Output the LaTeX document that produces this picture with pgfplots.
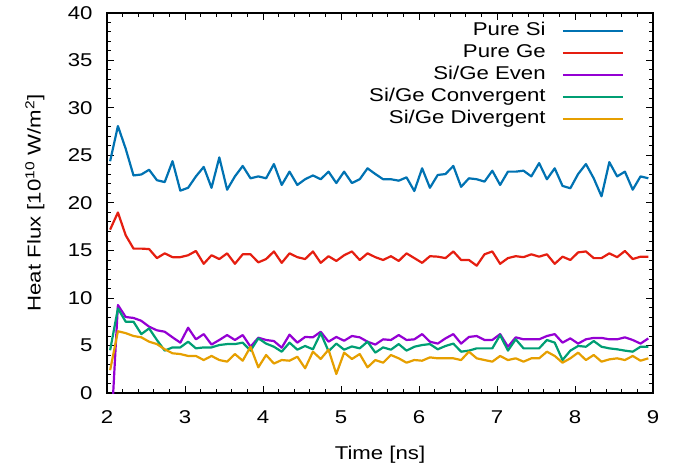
\documentclass[border=0pt]{standalone}
\usepackage{fontspec}
\setmainfont[FakeStretch=1.2]{Liberation Sans}
\usepackage{pgfplots}
\usepackage{pgfplotstable}
\pgfplotsset{compat=1.18}
\definecolor{cSi}{HTML}{0072B2}
\definecolor{cGe}{HTML}{E51E10}
\definecolor{cEv}{HTML}{9400D3}
\definecolor{cCo}{HTML}{009E73}
\definecolor{cDi}{HTML}{E69F00}
\newcommand\fsz{\fontsize{18.5bp}{21bp}\selectfont}
\pgfplotstableread{
x si ge even conv div
2.04 24.4 17.2 -6 4.5 2.4
2.14 28.1 19.0 9.26 8.9 6.5
2.24 25.7 16.6 8.0 7.5 6.3
2.34 22.9 15.2 7.9 7.5 6.0
2.44 23.0 15.2 7.6 6.2 5.86
2.54 23.5 15.15 6.98 6.8 5.4
2.64 22.4 14.2 6.6 5.58 5.15
2.74 22.2 14.7 6.45 4.46 4.6
2.84 24.4 14.3 5.86 4.8 4.18
2.94 21.3 14.3 5.3 4.8 4.1
3.04 21.6 14.5 6.87 5.4 3.9
3.14 22.8 14.95 5.65 4.7 3.9
3.24 23.8 13.6 6.2 4.8 3.47
3.34 21.6 14.5 5.1 4.8 3.9
3.44 24.8 14.1 5.58 5.05 3.47
3.54 21.4 14.7 6.1 5.15 3.3
3.64 22.8 13.6 5.58 5.15 4.1
3.74 23.9 14.6 6.1 5.3 3.4
3.84 22.6 14.6 4.87 4.46 4.87
3.94 22.8 13.75 5.82 5.75 2.7
4.04 22.6 14.1 5.58 5.2 4.0
4.14 24.1 14.9 5.47 4.87 3.1
4.24 21.9 13.7 4.77 4.35 3.47
4.34 23.3 14.7 6.14 5.3 3.4
4.44 21.9 14.3 5.3 4.56 3.82
4.54 22.5 14.1 5.9 4.95 2.6
4.64 22.9 14.9 5.86 4.6 4.35
4.74 22.5 13.7 6.45 6.3 3.58
4.84 23.3 14.4 5.4 4.4 4.56
4.94 22.1 13.9 5.9 5.2 2.0
5.04 23.3 14.5 5.5 4.56 4.25
5.14 22.1 14.9 6.0 4.9 3.58
5.24 22.5 14.0 5.86 4.7 4.1
5.34 23.65 14.7 5.4 5.4 2.7
5.44 23.05 14.3 5.1 4.25 3.47
5.54 22.5 14.0 5.65 4.8 3.19
5.64 22.5 14.4 5.58 4.56 4.0
5.74 22.35 13.9 6.1 5.15 3.65
5.84 22.7 14.7 5.58 4.46 3.19
5.94 21.26 14.2 5.65 4.87 3.47
6.04 23.65 13.7 6.2 5.05 3.4
6.14 21.6 14.4 5.4 5.15 3.75
6.24 22.95 14.35 5.2 4.6 3.65
6.34 23.05 14.2 5.75 4.95 3.65
6.44 23.9 14.9 6.2 5.2 3.65
6.54 21.7 14.0 5.2 4.35 3.47
6.64 22.6 14.0 5.9 4.46 4.35
6.74 22.5 13.4 6.0 4.7 3.65
6.84 22.25 14.6 5.58 4.7 3.47
6.94 23.4 14.9 5.58 4.7 3.3
7.04 21.9 13.6 6.2 6.1 3.9
7.14 23.3 14.2 4.87 4.46 3.47
7.24 23.3 14.4 5.86 5.65 3.65
7.34 23.4 14.3 5.65 4.7 3.3
7.44 22.8 14.6 5.65 4.7 3.65
7.54 24.2 14.35 5.65 4.7 3.65
7.64 22.5 14.6 6.0 5.58 4.35
7.74 23.65 13.6 6.2 5.3 3.9
7.84 21.8 14.35 5.3 3.47 3.19
7.94 21.55 14.0 5.75 4.46 3.65
8.04 23.05 14.8 5.2 4.95 4.25
8.14 24.1 14.9 5.65 4.87 3.47
8.24 22.6 14.2 5.8 5.47 4.0
8.34 20.7 14.2 5.8 4.87 3.3
8.44 24.3 14.7 5.65 4.7 3.54
8.54 22.8 14.3 5.65 4.6 3.65
8.64 23.3 14.95 5.86 4.46 3.47
8.74 21.4 14.1 5.58 4.35 3.9
8.84 22.8 14.35 5.2 4.87 3.4
8.94 22.6 14.35 5.75 4.87 3.65
}\datatable
\begin{document}
\begin{tikzpicture}
\begin{axis}[
  name=ax,
  scale only axis, width=546bp, height=380bp,
  xmin=2, xmax=9, ymin=0, ymax=40,
  xtick={2,...,9}, ytick={0,5,...,40},
  minor x tick num=4, minor y tick num=4,
  tick align=inside, major tick length=7bp, minor tick length=4bp,
  axis line style={line width=1.6bp},
  every tick/.style={black, line width=1bp},
  /pgf/number format/assume math mode=true,
  tick label style={font=\fsz},
  xticklabel style={yshift=-14bp},
  yticklabel style={xshift=-11bp},
  xlabel={Time [ns]},
  ylabel={Heat Flux [10\textsuperscript{10} W/m\textsuperscript{2}]},
  every axis x label/.style={at={(axis description cs:0.5,-0.162)}, anchor=center, font=\fsz},
  every axis y label/.style={at={(axis description cs:-0.1319,0.5)}, rotate=90, anchor=center, font=\fsz},
  legend style={draw=none, fill=none, inner sep=0pt, at={(axis description cs:0.947,0.975)}, anchor=north east,
    font=\fsz, nodes={inner sep=0pt, text height=13bp, text depth=4bp}, row sep=4.9bp, column sep=16bp},
  legend cell align=right,
  legend plot pos=right,
  legend image code/.code={\draw[line width=2.2bp,#1] (0bp,0bp) -- (60bp,0bp);},
  every axis plot/.append style={line width=2.2bp, line join=round},
]
\addplot[cSi] table[x=x, y=si] {\datatable};
\addlegendentry{Pure Si}
\addplot[cGe] table[x=x, y=ge] {\datatable};
\addlegendentry{Pure Ge}
\addplot[cEv] table[x=x, y=even] {\datatable};
\addlegendentry{Si/Ge Even}
\addplot[cCo] table[x=x, y=conv] {\datatable};
\addlegendentry{Si/Ge Convergent}
\addplot[cDi] table[x=x, y=div] {\datatable};
\addlegendentry{Si/Ge Divergent}
\end{axis}
\path ([shift={(-107bp,-72bp)}]ax.south west) rectangle ([shift={(22bp,13bp)}]ax.north east);
\end{tikzpicture}
\end{document}
